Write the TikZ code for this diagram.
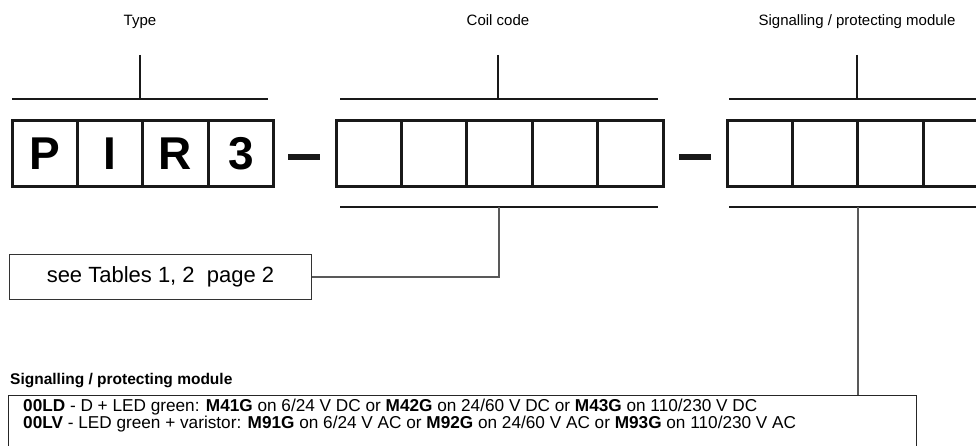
\documentclass[tikz,border=0pt]{standalone}
\usepackage{fontspec}
\setmainfont{Liberation Sans}
\usetikzlibrary{positioning}

\begin{document}
\begin{tikzpicture}[
          x = 1pt, y = -1pt,
 cell/.style = {rectangle, draw=black!90, line width=3pt, outer sep=0pt,
                inner sep=0pt, minimum width=65.4pt, minimum height=66pt,
                font=\fontsize{46}{46}\selectfont\bfseries},
 hyph/.style = {rectangle, fill=black!90, inner sep=0pt,
                minimum width=32pt, minimum height=6pt},
  bar/.style = {line width=2pt, black!90},
 stem/.style = {line width=1.5pt, black!90},
 lead/.style = {line width=1.2pt, black!65},
  lbl/.style = {font=\fontsize{15}{15}\selectfont, inner sep=0pt, anchor=base}
                        ]
\useasboundingbox (0,0) rectangle (976,446);
%
\node (Ltype) [lbl] at (140,26) {Type};
\node (Lcoil) [lbl] at (498,26) {Coil code};
\node (Lmod)  [lbl] at (857,26) {Signalling / protecting module};
% type
\node (T1) [cell] at (44.7,154) {P};
\node (T2) [cell, right=0pt of T1] {I};
\node (T3) [cell, right=0pt of T2] {R};
\node (T4) [cell, right=0pt of T3] {3};
\node (H1) [hyph] at (304,157) {};
% coil code
\node (C1) [cell] at (368.7,154) {};
\node (C2) [cell, right=0pt of C1] {};
\node (C3) [cell, right=0pt of C2] {};
\node (C4) [cell, right=0pt of C3] {};
\node (C5) [cell, right=0pt of C4] {};
\node (H2) [hyph] at (694.5,157) {};
% module
\node (S1) [cell] at (759.7,154) {};
\node (S2) [cell, right=0pt of S1] {};
\node (S3) [cell, right=0pt of S2] {};
\node (S4) [cell, right=0pt of S3] {};
% brackets
\coordinate (tTop) at (140,55);  \coordinate (tMid) at (140,99);
\coordinate (cTop) at (498,55);  \coordinate (cMid) at (498,99);
\coordinate (sTop) at (857,55);  \coordinate (sMid) at (857,99);
\coordinate (cLow) at (499,207); \coordinate (sLow) at (858,207);
\draw[bar] (12,99) -- (268,99);
\draw[bar] (340,99) -- (658,99);
\draw[bar] (729,99) -- (990,99);
\draw[stem] (tTop) -- (tMid);
\draw[stem] (cTop) -- (cMid);
\draw[stem] (sTop) -- (sMid);
\draw[bar] (340,207) -- (658,207);
\draw[bar] (729,207) -- (990,207);
% notes
\node (see) [rectangle, draw=black!80, line width=1pt, anchor=north west,
             minimum width=302pt, minimum height=45pt,
             font=\fontsize{22}{22}\selectfont] at (9,254) {see Tables 1, 2\ \ page 2};
\draw[lead] (cLow) |- (see.east);
\node (head) [anchor=west, inner sep=0pt,
              font=\fontsize{15.5}{15.5}\selectfont\bfseries] at (10,381)
      {Signalling / protecting module};
\node (info) [rectangle, draw=black!85, line width=1pt, anchor=north west,
              minimum width=908pt, minimum height=80pt] at (8,395) {};
\node (rows) [anchor=north west, align=left, inner sep=0pt,
              font=\fontsize{17.2}{17}\selectfont] at (23,399)
      {\textbf{00LD} - D + LED green: \textbf{M41G} on 6/24 V DC or \textbf{M42G} on 24/60 V DC or \textbf{M43G} on 110/230 V DC\\
       \textbf{00LV} - LED green + varistor: \textbf{M91G} on 6/24 V AC or \textbf{M92G} on 24/60 V AC or \textbf{M93G} on 110/230 V AC};
\draw[lead] (sLow) -- (sLow |- info.north);
\end{tikzpicture}
\end{document}
